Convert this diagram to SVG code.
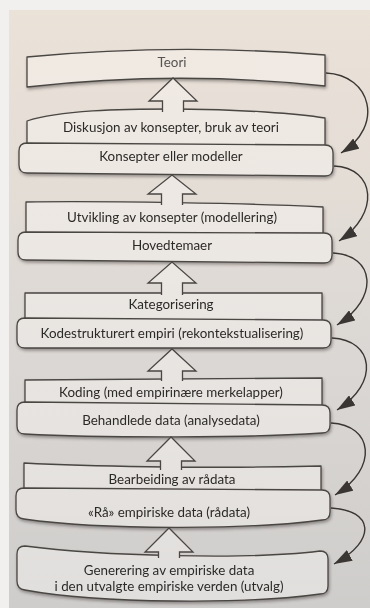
<svg xmlns="http://www.w3.org/2000/svg" width="370" height="608" viewBox="0 0 370 608">
  <defs>
    <linearGradient id="page" gradientUnits="userSpaceOnUse" x1="0" y1="0" x2="0" y2="608">
      <stop offset="0" stop-color="#ebe2d8"/>
      <stop offset="0.3" stop-color="#e4ddd6"/>
      <stop offset="0.6" stop-color="#dad7d4"/>
      <stop offset="1" stop-color="#cfcdcb"/>
    </linearGradient>
    <linearGradient id="boxfill" gradientUnits="userSpaceOnUse" x1="0" y1="40" x2="0" y2="600">
      <stop offset="0" stop-color="#f1eae3"/>
      <stop offset="0.4" stop-color="#ebe7e3"/>
      <stop offset="1" stop-color="#e1dfdd"/>
    </linearGradient>
    <filter id="sh" x="-5%" y="-20%" width="110%" height="150%">
      <feDropShadow dx="1" dy="2" stdDeviation="1.4" flood-color="#3a3632" flood-opacity="0.45"/>
    </filter>
    <marker id="ah" markerUnits="userSpaceOnUse" markerWidth="18" markerHeight="12" refX="18" refY="6" orient="auto" viewBox="0 0 18 12">
      <path d="M0,0 L18,6 L0,12 Z" fill="#3a3633"/>
    </marker>
  </defs>
  <style>
    .box { fill: url(#boxfill); stroke: #4a4643; stroke-width: 1.3; stroke-linejoin: round; }
    .blk { fill: url(#boxfill); stroke: #4a4643; stroke-width: 1.3; stroke-linejoin: miter; }
    .lbl { font-family: Lato, "Liberation Sans", sans-serif; font-size: 13.4px; fill: #2c2a28; text-anchor: middle; }
    .con { fill: none; stroke: #3a3633; stroke-width: 1.4; marker-end: url(#ah); }
  </style>

  <!-- page -->
  <rect x="0" y="0" width="370" height="608" fill="#f2f0ee"/>
  <rect x="9" y="10" width="361" height="598" fill="url(#page)"/>

  <g id="teori" filter="url(#sh)">
    <path class="box" d="M27,57 Q176,43 325,55 L325,86 Q176,70 27,87 Z"/>
    <text class="lbl" x="172" y="67" style="fill:#575350">Teori</text>
  </g>

  <g id="diskusjon" filter="url(#sh)">
    <path class="box" d="M27,121 C60,110 120,109 176,109 C240,109 300,114 325,118 L325,152 L27,152 Z"/>
    <text class="lbl" x="171" y="132">Diskusjon av konsepter, bruk av teori</text>
  </g>

  <g id="konsepter" filter="url(#sh)">
    <path class="box" d="M27,143 L325,145 Q333,145 333,153 L333,168 Q333,176 325,176 L27,173 Q19,173 19,165 L19,151 Q19,143 27,143 Z"/>
    <text class="lbl" x="171" y="161">Konsepter eller modeller</text>
  </g>

  <g id="utvikling" filter="url(#sh)">
    <path class="box" d="M26,202 C100,201 250,203 323,207 L323,240 L26,240 Z"/>
    <text class="lbl" x="172" y="222">Utvikling av konsepter (modellering)</text>
  </g>

  <g id="hovedtemaer" filter="url(#sh)">
    <path class="box" d="M26,232 L324,233 Q332,233 332,241 L332,255 Q332,263 324,263 L26,260 Q18,260 18,252 L18,240 Q18,232 26,232 Z"/>
    <text class="lbl" x="172" y="250">Hovedtemaer</text>
  </g>

  <g id="kategorisering" filter="url(#sh)">
    <path class="box" d="M25,293 L322,293 L322,325 L25,325 Z"/>
    <text class="lbl" x="171" y="309">Kategorisering</text>
  </g>

  <g id="kodestrukturert" filter="url(#sh)">
    <path class="box" d="M25,318 L323,320 Q331,320 331,328 L331,340 Q331,348 323,348 L25,348 Q17,348 17,340 L17,326 Q17,318 25,318 Z"/>
    <text class="lbl" x="172" y="338">Kodestrukturert empiri (rekontekstualisering)</text>
  </g>

  <g id="koding" filter="url(#sh)">
    <path class="box" d="M25,380 L322,378 L322,410 L25,410 Z"/>
    <text class="lbl" x="171" y="397">Koding (med empirinære merkelapper)</text>
  </g>

  <g id="behandlede" filter="url(#sh)">
    <path class="box" d="M25,402 L322,405 Q330,405 330,413 L330,425 Q330,433 322,433 C250,438 100,438 25,434 Q17,434 17,426 L17,410 Q17,402 25,402 Z"/>
    <text class="lbl" x="171" y="425">Behandlede data (analysedata)</text>
  </g>

  <g id="bearbeiding" filter="url(#sh)">
    <path class="box" d="M24,463 C80,466 200,469 321,466 L321,500 L24,500 Z"/>
    <text class="lbl" x="172" y="484">Bearbeiding av rådata</text>
  </g>

  <g id="raadata" filter="url(#sh)">
    <path class="box" d="M24,488 L322,490 Q330,490 330,498 L330,512 Q330,520 322,520 C250,530 100,530 24,519 Q16,518 16,510 L16,496 Q16,488 24,488 Z"/>
    <text class="lbl" x="169" y="517">«Rå» empiriske data (rådata)</text>
  </g>

  <g id="generering" filter="url(#sh)">
    <path class="box" d="M25,546 C100,556 250,560 320,551 Q328,551 328,559 L328,586 Q328,594 320,594 C250,604 100,604 25,590 Q17,589 17,581 L17,554 Q17,546 25,546 Z"/>
    <text class="lbl" x="169" y="575">Generering av empiriske data</text>
    <text class="lbl" x="169" y="591">i den utvalgte empiriske verden (utvalg)</text>
  </g>

  <g id="connectors">
    <!-- block arrows (upward flow) -->
    <path class="blk" d="M162.5,112 L162.5,101 L149,101 L173,78 L197,101 L183.5,101 L183.5,112"/>
    <path class="blk" d="M161.5,205 L161.5,194 L148,194 L172,175 L196,194 L182.5,194 L182.5,205"/>
    <path class="blk" d="M161.5,295 L161.5,283 L148,283 L172,262 L196,283 L182.5,283 L182.5,295"/>
    <path class="blk" d="M161.5,381 L161.5,371 L148,371 L172,349 L196,371 L182.5,371 L182.5,381"/>
    <path class="blk" d="M160.5,470 L160.5,461 L147,461 L171,437 L195,461 L181.5,461 L181.5,470"/>
    <path class="blk" d="M158.5,558 L158.5,552 L145,552 L169,528 L193,552 L179.5,552 L179.5,558"/>
    <!-- curved feedback arrows on the right -->
    <path class="con" d="M326,73 C371,75 385,126 341,153"/>
    <path class="con" d="M334,166 C376,168 380,214 339,241"/>
    <path class="con" d="M333,253 C375,255 380,298 337,325"/>
    <path class="con" d="M332,338 C374,340 380,383 337,410"/>
    <path class="con" d="M331,423 C373,425 379,468 335,495"/>
    <path class="con" d="M331,508 C373,510 378,540 334,564"/>
  </g>
</svg>
